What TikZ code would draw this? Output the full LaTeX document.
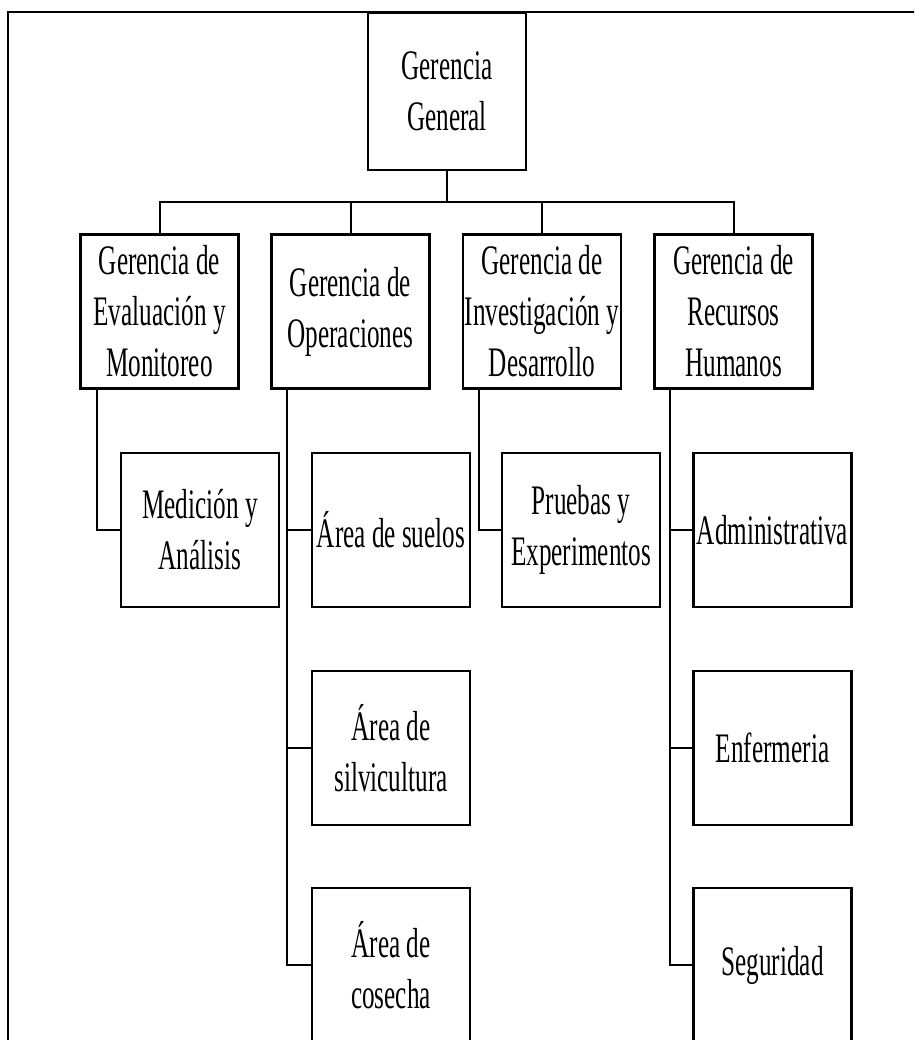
\documentclass[tikz,border=0pt]{standalone}
\usepackage{fontspec}
\setmainfont{Liberation Serif}[FakeStretch=0.6]
\begin{document}
\begin{tikzpicture}[x=1pt,y=-1pt,
  box/.style={draw, line width=2.4pt, minimum width=158pt, minimum height=154pt,
    inner sep=0pt, align=center, font=\fontsize{42}{51}\selectfont},
  conn/.style={line width=2pt},
  stub/.style={line width=2.6pt}]
\useasboundingbox (0,0) rectangle (914,1040);
\clip (0,0) rectangle (914,1040);
\fill[white] (0,0) rectangle (914,1040);
% outer frame
\draw[line width=2pt] (916,12) -- (8,12) -- (8,1045);
% top
\node[box, minimum height=157pt] (gg) at (447,91.5) {Gerencia\\General};
% level 2
\node[box] (eva) at (159.5,311.5) {Gerencia de\\Evaluación y\\Monitoreo};
\node[box] (ope) at (350.5,311.5) {Gerencia de\\Operaciones};
\node[box] (inv) at (542,311.5) {Gerencia de\\Investigación y\\Desarrollo};
\node[box] (rrh) at (733.5,311.5) {Gerencia de\\Recursos\\Humanos};
% level 3
\node[box] (med) at (200,530) {Medición y\\Análisis};
\node[box] (sue) at (391,530) {Área de suelos};
\node[box] (pru) at (581,530) {Pruebas y\\Experimentos};
\node[box] (adm) at (772.5,530) {Administrativa};
% level 4
\node[box] (sil) at (391,748) {Área de\\silvicultura};
\node[box] (enf) at (772.5,748) {Enfermeria};
% level 5
\node[box] (cos) at (391,965) {Área de\\cosecha};
\node[box] (seg) at (772.5,965) {Seguridad};
% bus
\coordinate (bus) at (447,202);
\draw[conn] (gg.south) -- (bus);
\draw[conn] (eva.north) |- (bus) -| (rrh.north);
\draw[conn] (ope.north) -- (ope.north |- bus);
\draw[conn] (inv.north) -- (inv.north |- bus);
% children connectors
\coordinate (et) at ([xshift=-62.5pt]eva.south);
\coordinate (ot) at ([xshift=-63.5pt]ope.south);
\coordinate (it) at ([xshift=-63pt]inv.south);
\coordinate (rt) at ([xshift=-63.5pt]rrh.south);
\draw[conn] (et) |- (med.west);
\draw[conn] (ot) |- (cos.west);
\draw[conn] (it) |- (pru.west);
\draw[conn] (rt) |- (seg.west);
\draw[stub] (ot |- sue.west) -- (sue.west);
\draw[stub] (ot |- sil.west) -- (sil.west);
\draw[stub] (rt |- adm.west) -- (adm.west);
\draw[stub] (rt |- enf.west) -- (enf.west);
\draw[stub] (et |- med.west) -- (med.west);
\draw[stub] (it |- pru.west) -- (pru.west);
\draw[stub] (ot |- cos.west) -- (cos.west);
\draw[stub] (rt |- seg.west) -- (seg.west);
\end{tikzpicture}
\end{document}
